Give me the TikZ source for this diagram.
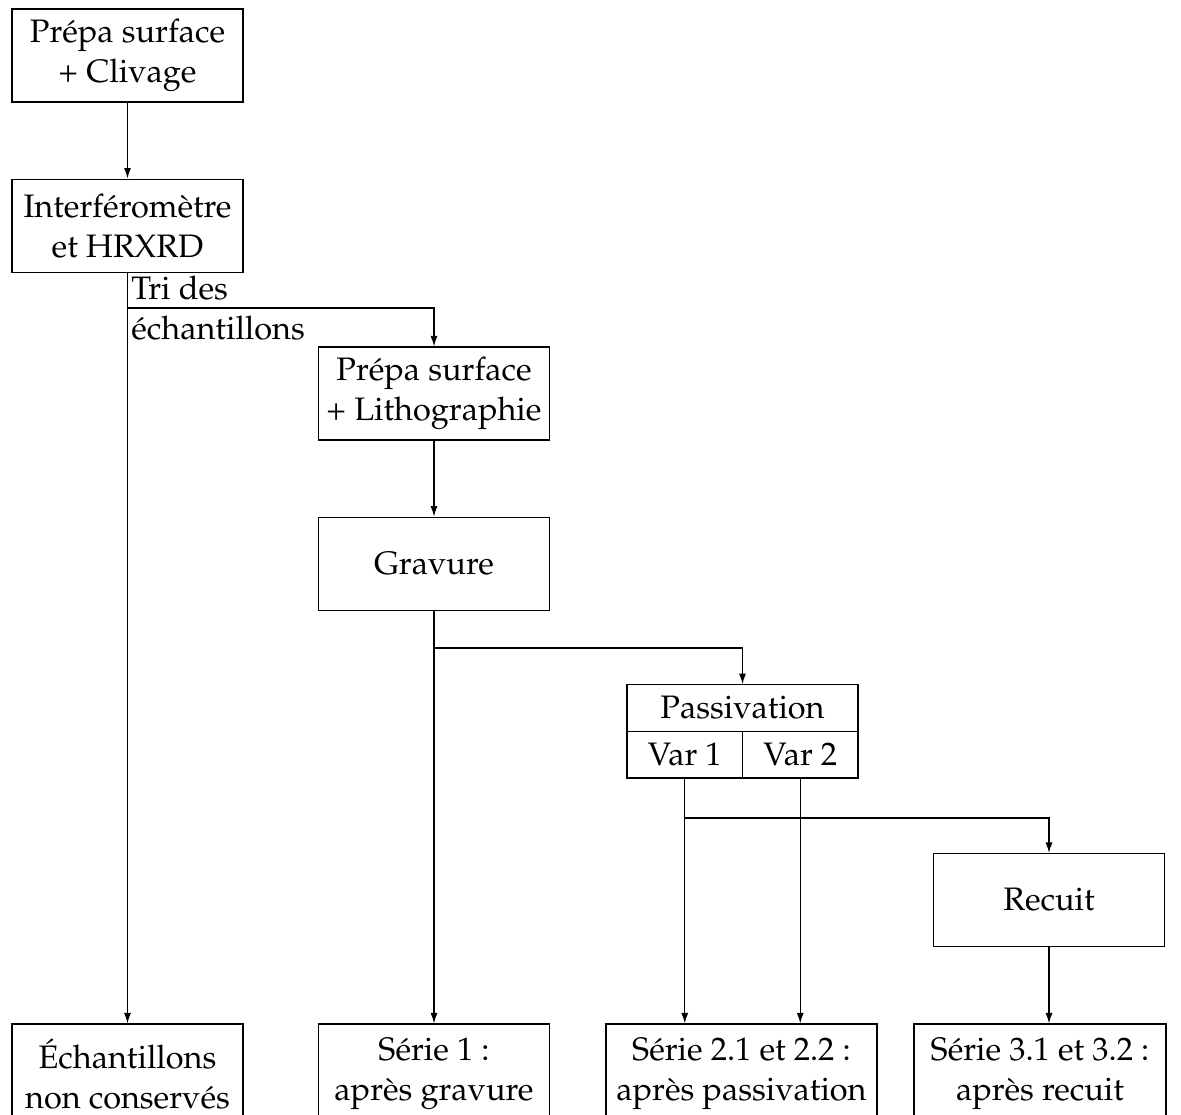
\documentclass[tikz,border=0pt]{standalone}
\usepackage[T1]{fontenc}
\usepackage{mathpazo}
\usepackage{tikz}
\usetikzlibrary{positioning,arrows.meta}

\begin{document}
\begin{tikzpicture}[
  x=0.02cm, y=-0.02cm,
  node distance=1.52cm and 1.52cm,
  every node/.style={font=\fontsize{18.5}{22.7}\selectfont},
  box/.style={draw, line width=0.7pt, minimum width=4.62cm, minimum height=1.86cm, align=center},
  endbox/.style={box, minimum height=2cm},
  half/.style={draw, line width=0.7pt, minimum height=0.93cm, inner sep=0pt, align=center},
  arrow/.style={-{Latex[length=6pt,width=4pt]}, line width=0.7pt}
]
\useasboundingbox (0,0) rectangle (1181,1115);

\node[box] (clivage) at (127.5,55.5) {Pr\'epa surface\\+ Clivage};
\node[box, below=of clivage] (interf) {Interf\'erom\`etre\\et HRXRD};
\node[box] (litho) at (434,393.5) {Pr\'epa surface\\+ Lithographie};
\node[box, below=of litho] (gravure) {Gravure};
\node[half, minimum width=4.62cm] (pass) at (742.5,708) {Passivation};
\node[half, minimum width=2.31cm] (var1) at (684.75,754.75) {Var 1};
\node[half, minimum width=2.31cm] (var2) at (800.25,754.75) {Var 2};
\node[box] (recuit) at (1049,900) {Recuit};

% resultats
\node[endbox] (nonconserves) at (127.5,1074) {\'Echantillons\\non conserv\'es};
\node[endbox] (serie1) at (434,1074) {S\'erie 1 :\\apr\`es gravure};
\node[endbox, minimum width=5.42cm] (serie2) at (741.5,1074) {S\'erie 2.1 et 2.2 :\\apr\`es passivation};
\node[endbox, minimum width=5.04cm] (serie3) at (1040,1074) {S\'erie 3.1 et 3.2 :\\apr\`es recuit};

\coordinate (fork1) at (127.5,308);
\coordinate (fork2) at (434,648);
\coordinate (fork3) at (684.75,818);
\node[anchor=west, align=left, inner sep=2pt] (tri) at (fork1) {Tri des\\\'echantillons};

\draw[arrow] (clivage) -- (interf);
\draw[arrow] (interf) -- (nonconserves);
\draw[arrow] (fork1) -| (litho);
\draw[arrow] (litho) -- (gravure);
\draw[arrow] (gravure) -- (serie1);
\draw[arrow] (fork2) -| (pass);
\draw[arrow] (var1.south) -- (var1.south |- serie2.north);
\draw[arrow] (var2.south) -- (var2.south |- serie2.north);
\draw[arrow] (fork3) -| (recuit);
\draw[arrow] (recuit.south) -- (recuit.south |- serie3.north);
\end{tikzpicture}
\end{document}
